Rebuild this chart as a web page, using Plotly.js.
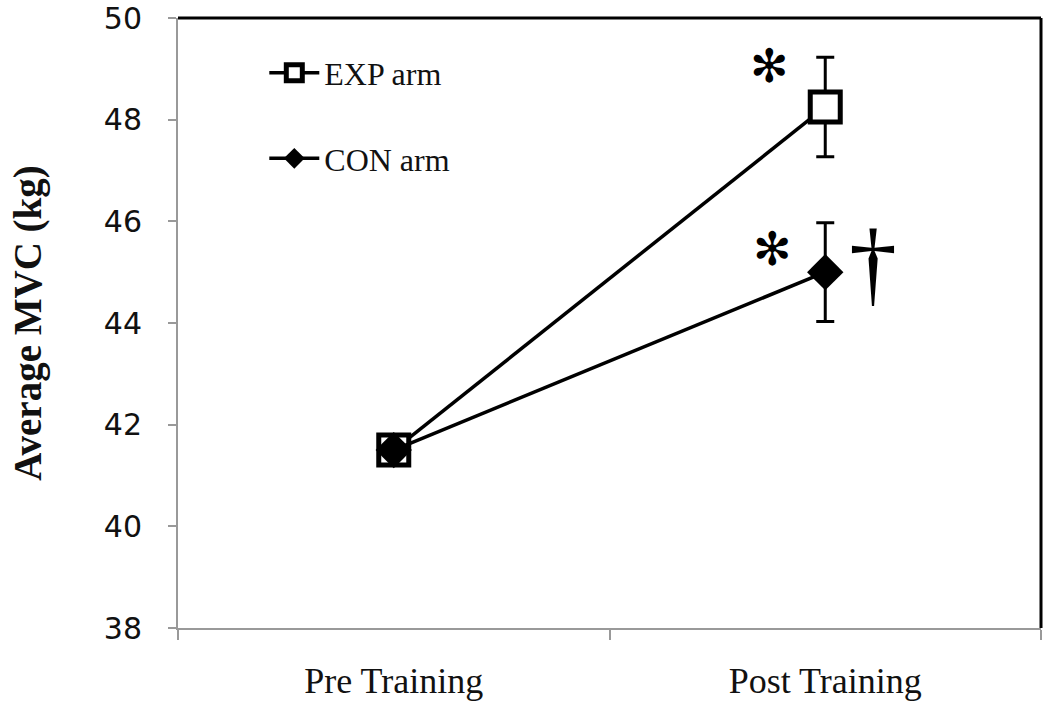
<!DOCTYPE html>
<html>
<head>
<meta charset="utf-8">
<script src="https://cdn.plot.ly/plotly-3.0.1.min.js"></script>
<style>
  html, body { margin: 0; padding: 0; background: #fff; }
  #chart { width: 1050px; height: 704px; }
</style>
</head>
<body>
<div id="chart"></div>
<script>
// phases on the x axis
const phases = ['Pre Training', 'Post Training'];

// average MVC (kg) and error bars
const expMean = [41.5, 48.25];
const expErr = [0, 0.98];
const conMean = [41.5, 45.0];
const conErr = [0, 0.97];

const yTicks = [38, 40, 42, 44, 46, 48, 50];

const SERIF = 'Liberation Serif, Times New Roman, serif';

const traces = [
    {
        x: phases,
        y: expMean,
        name: 'EXP arm',
        mode: 'lines+markers',
        line: { color: '#000', width: 3.5 },
        marker: { symbol: 'square', size: 30, color: '#fff', line: { color: '#000', width: 5 } },
        error_y: { type: 'data', array: expErr, visible: true, color: '#000', thickness: 3, width: 9 },
        legendgroup: 'exp'
    },
    {
        x: phases,
        y: conMean,
        name: 'CON arm',
        mode: 'lines+markers',
        line: { color: '#000', width: 3.5 },
        marker: { symbol: 'diamond', size: 28, color: '#000' },
        error_y: { type: 'data', array: conErr, visible: true, color: '#000', thickness: 3, width: 9 },
        legendgroup: 'con'
    }
];

const layout = {
    width: 1050,
    height: 704,
    paper_bgcolor: '#fff',
    plot_bgcolor: '#fff',
    margin: { l: 178, r: 9, t: 18, b: 76 },
    showlegend: true,
    legend: {
        x: 0.1, y: 0.955, xanchor: 'left', yanchor: 'top',
        bgcolor: 'rgba(0,0,0,0)',
        font: { family: SERIF, size: 32, color: '#111' },
        traceorder: 'grouped',
        tracegroupgap: 41,
        itemwidth: 50
    },
    xaxis: {
        type: 'category',
        range: [-0.5, 1.5],
        tickson: 'boundaries',
        ticks: 'outside',
        ticklen: 10,
        tickwidth: 2,
        tickcolor: '#999',
        showline: true,
        linecolor: '#999',
        linewidth: 2,
        showgrid: false,
        zeroline: false,
        ticklabelstandoff: 20,
        tickfont: { family: SERIF, size: 36, color: '#111' }
    },
    yaxis: {
        range: [38, 50],
        tickvals: yTicks,
        ticks: 'outside',
        ticklen: 8,
        tickwidth: 2,
        tickcolor: '#999',
        showline: true,
        linecolor: '#999',
        linewidth: 2,
        showgrid: false,
        zeroline: false,
        ticklabelstandoff: 20,
        tickfont: { family: 'DejaVu Sans, Verdana, sans-serif', size: 30, color: '#111' },
        title: {
            text: '<b>Average MVC (kg)</b>',
            font: { family: SERIF, size: 39, color: '#111' },
            standoff: 50
        }
    },
    shapes: [
        { type: 'line', xref: 'paper', yref: 'paper', x0: 0, x1: 1, y0: 1, y1: 1, line: { color: '#000', width: 3 } },
        { type: 'line', xref: 'paper', yref: 'paper', x0: 1, x1: 1, y0: 0, y1: 1, line: { color: '#000', width: 3 } }
    ],
    annotations: [
        { x: 'Post Training', y: 49.05, xshift: -56, text: '✻', showarrow: false,
          font: { family: 'DejaVu Sans', size: 46, color: '#000' } },
        { x: 'Post Training', y: 45.45, xshift: -53, text: '✻', showarrow: false,
          font: { family: 'DejaVu Sans', size: 46, color: '#000' } },
        { x: 'Post Training', y: 45.2, xshift: 48, text: '†', showarrow: false,
          font: { family: SERIF, size: 96, color: '#000' } }
    ]
};

Plotly.newPlot('chart', traces, layout, { displayModeBar: false, responsive: false });
</script>
</body>
</html>
